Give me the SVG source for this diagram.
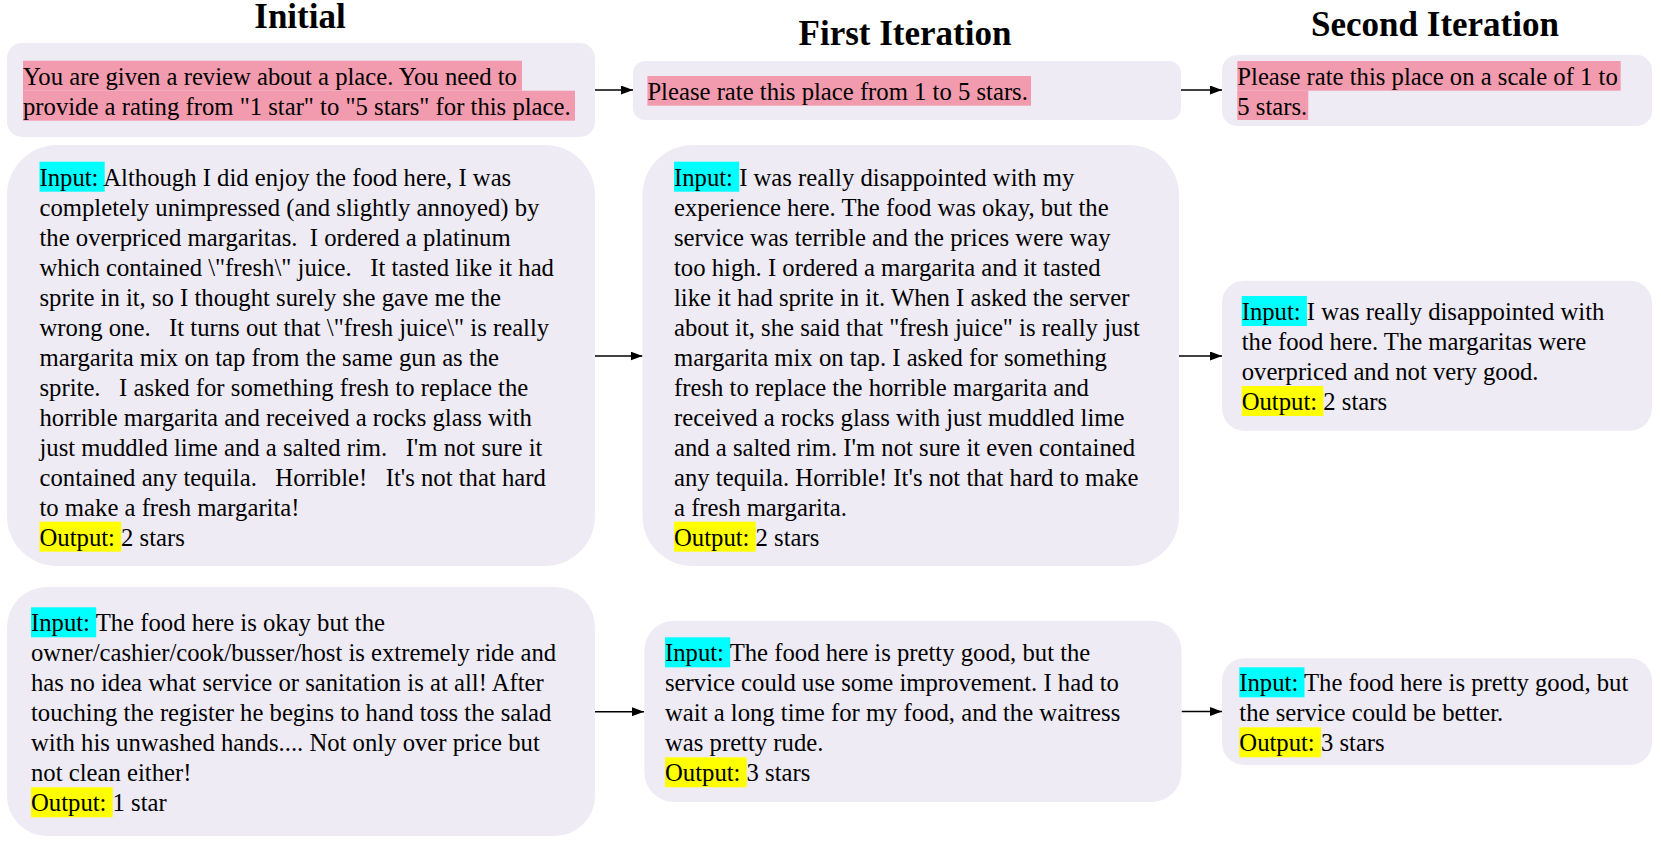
<svg xmlns="http://www.w3.org/2000/svg" width="1661" height="847" viewBox="0 0 1661 847">
<style>
.box{fill:#EEEBF5}
.t{font-family:"Liberation Serif","Times New Roman",serif;font-size:24.7px;fill:#000;white-space:pre}
.title{font-family:"Liberation Serif","Times New Roman",serif;font-size:35px;font-weight:bold;fill:#000;text-anchor:middle}
.pink{fill:#F29BAE}
.cyan{fill:#00FFFF}
.yel{fill:#FFFF00}
.conn{stroke:#000;stroke-width:1.6;fill:none;marker-end:url(#arr)}
</style>
<defs>
<marker id="arr" viewBox="0 0 12 9" refX="12" refY="4.5" markerWidth="12" markerHeight="9" markerUnits="userSpaceOnUse" orient="auto"><path d="M0,0 L12,4.5 L0,9 Z" fill="#000"/></marker>
</defs>
<rect width="1661" height="847" fill="#fff"/>
<g id="titles">
<text class="title" x="300" y="28">Initial</text>
<text class="title" x="905" y="45">First Iteration</text>
<text class="title" x="1435" y="36">Second Iteration</text>
</g>
<g id="connectors">
<path class="conn" d="M595,90 L633,90"/>
<path class="conn" d="M1181,90 L1222,90"/>
<path class="conn" d="M595,356 L642.5,356"/>
<path class="conn" d="M1179,356 L1222,356"/>
<path class="conn" d="M595,711.7 L644,711.7"/>
<path class="conn" d="M1181.5,711.5 L1222,711.5"/>
</g>
<g id="prompt-initial">
<rect class="box" x="7" y="43" width="588" height="94" rx="15"/>
<rect class="pink" x="23" y="60.7" width="499" height="30"/>
<rect class="pink" x="23" y="90.7" width="552" height="30"/>
<text class="t" x="23" y="85">You are given a review about a place. You need to</text>
<text class="t" x="23" y="115">provide a rating from "1 star" to "5 stars" for this place.</text>
</g>
<g id="prompt-first">
<rect class="box" x="633" y="61" width="548" height="59" rx="12"/>
<rect class="pink" x="647.4" y="76" width="383.6" height="29.7"/>
<text class="t" x="647.4" y="100">Please rate this place from 1 to 5 stars.</text>
</g>
<g id="prompt-second">
<rect class="box" x="1222" y="55" width="430" height="71" rx="15"/>
<rect class="pink" x="1237.3" y="61" width="383.4" height="29.7"/>
<rect class="pink" x="1237.3" y="90.7" width="71" height="29.3"/>
<text class="t" x="1237.3" y="85">Please rate this place on a scale of 1 to</text>
<text class="t" x="1237.3" y="115">5 stars.</text>
</g>
<g id="example1-initial">
<rect class="box" x="7" y="145" width="588" height="421" rx="50"/>
<rect class="cyan" x="39.5" y="161.7" width="65.2" height="30"/>
<rect class="yel" x="39.5" y="521.7" width="81.7" height="30"/>
<text class="t" x="39.5" y="186">Input: Although I did enjoy the food here, I was</text>
<text class="t" x="39.5" y="216">completely unimpressed (and slightly annoyed) by</text>
<text class="t" x="39.5" y="246">the overpriced margaritas.  I ordered a platinum</text>
<text class="t" x="39.5" y="276">which contained \"fresh\" juice.   It tasted like it had</text>
<text class="t" x="39.5" y="306">sprite in it, so I thought surely she gave me the</text>
<text class="t" x="39.5" y="336">wrong one.   It turns out that \"fresh juice\" is really</text>
<text class="t" x="39.5" y="366">margarita mix on tap from the same gun as the</text>
<text class="t" x="39.5" y="396">sprite.   I asked for something fresh to replace the</text>
<text class="t" x="39.5" y="426">horrible margarita and received a rocks glass with</text>
<text class="t" x="39.5" y="456">just muddled lime and a salted rim.   I'm not sure it</text>
<text class="t" x="39.5" y="486">contained any tequila.   Horrible!   It's not that hard</text>
<text class="t" x="39.5" y="516">to make a fresh margarita!</text>
<text class="t" x="39.5" y="546">Output: 2 stars</text>
</g>
<g id="example1-first">
<rect class="box" x="642.5" y="145" width="536.5" height="421" rx="50"/>
<rect class="cyan" x="674" y="161.7" width="65.2" height="30"/>
<rect class="yel" x="674" y="521.7" width="81.7" height="30"/>
<text class="t" x="674" y="186">Input: I was really disappointed with my</text>
<text class="t" x="674" y="216">experience here. The food was okay, but the</text>
<text class="t" x="674" y="246">service was terrible and the prices were way</text>
<text class="t" x="674" y="276">too high. I ordered a margarita and it tasted</text>
<text class="t" x="674" y="306">like it had sprite in it. When I asked the server</text>
<text class="t" x="674" y="336">about it, she said that "fresh juice" is really just</text>
<text class="t" x="674" y="366">margarita mix on tap. I asked for something</text>
<text class="t" x="674" y="396">fresh to replace the horrible margarita and</text>
<text class="t" x="674" y="426">received a rocks glass with just muddled lime</text>
<text class="t" x="674" y="456">and a salted rim. I'm not sure it even contained</text>
<text class="t" x="674" y="486">any tequila. Horrible! It's not that hard to make</text>
<text class="t" x="674" y="516">a fresh margarita.</text>
<text class="t" x="674" y="546">Output: 2 stars</text>
</g>
<g id="example1-second">
<rect class="box" x="1222" y="280.7" width="430" height="150" rx="22"/>
<rect class="cyan" x="1241.7" y="296" width="65.2" height="30"/>
<rect class="yel" x="1241.7" y="386" width="81.7" height="30"/>
<text class="t" x="1241.7" y="320">Input: I was really disappointed with</text>
<text class="t" x="1241.7" y="350">the food here. The margaritas were</text>
<text class="t" x="1241.7" y="380">overpriced and not very good.</text>
<text class="t" x="1241.7" y="410">Output: 2 stars</text>
</g>
<g id="example2-initial">
<rect class="box" x="7" y="587" width="588" height="249" rx="40"/>
<rect class="cyan" x="31" y="607.3" width="65.2" height="30"/>
<rect class="yel" x="31" y="787.3" width="81.7" height="30"/>
<text class="t" x="31" y="631.3">Input: The food here is okay but the</text>
<text class="t" x="31" y="661.3">owner/cashier/cook/busser/host is extremely ride and</text>
<text class="t" x="31" y="691.3">has no idea what service or sanitation is at all! After</text>
<text class="t" x="31" y="721.3">touching the register he begins to hand toss the salad</text>
<text class="t" x="31" y="751.3">with his unwashed hands.... Not only over price but</text>
<text class="t" x="31" y="781.3">not clean either!</text>
<text class="t" x="31" y="811.3">Output: 1 star</text>
</g>
<g id="example2-first">
<rect class="box" x="644.3" y="620.7" width="537.2" height="181.3" rx="30"/>
<rect class="cyan" x="665" y="637.3" width="65.2" height="30"/>
<rect class="yel" x="665" y="757.3" width="81.7" height="30"/>
<text class="t" x="665" y="661.3">Input: The food here is pretty good, but the</text>
<text class="t" x="665" y="691.3">service could use some improvement. I had to</text>
<text class="t" x="665" y="721.3">wait a long time for my food, and the waitress</text>
<text class="t" x="665" y="751.3">was pretty rude.</text>
<text class="t" x="665" y="781.3">Output: 3 stars</text>
</g>
<g id="example2-second">
<rect class="box" x="1222" y="658.3" width="430" height="106.7" rx="22"/>
<rect class="cyan" x="1239.3" y="667.3" width="65.2" height="30"/>
<rect class="yel" x="1239.3" y="727.3" width="81.7" height="30"/>
<text class="t" x="1239.3" y="691.3">Input: The food here is pretty good, but</text>
<text class="t" x="1239.3" y="721.3">the service could be better.</text>
<text class="t" x="1239.3" y="751.3">Output: 3 stars</text>
</g>
</svg>
